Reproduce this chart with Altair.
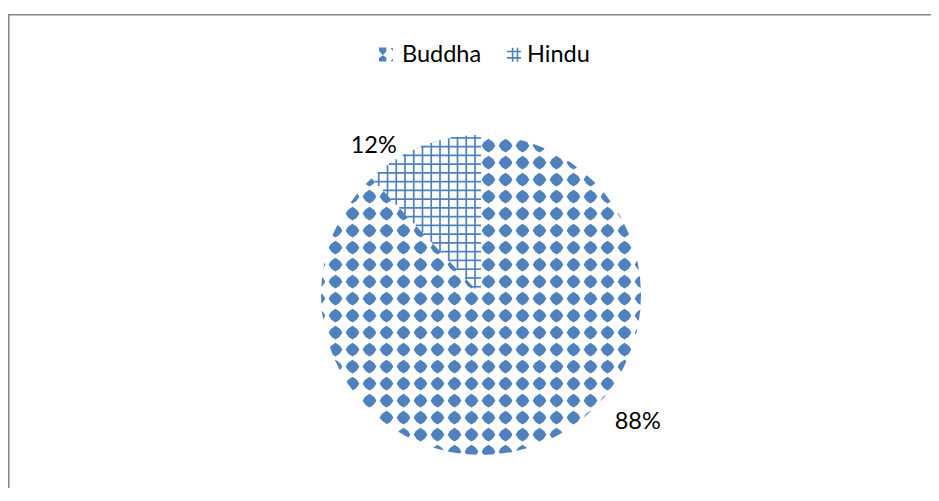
import altair as alt
import numpy as np
import pandas as pd

# ---- data ----
categories = ["Buddha", "Hindu"]
shares = [88, 12]
labels = ["88%", "12%"]
order = [0, 1]

BLUE = "#4F81BD"
FONT = "Lato"
FS = 23.5
W, H = 923, 474
CX, CY, R = 473, 281, 160

df = pd.DataFrame({"category": categories, "share": shares, "label": labels, "order": order})

# ---- texture helpers (decoration only) ----
# diamond lattice used as the "dotted diamond" fill of the pie
xs = 480.5 + 17 * np.arange(-15, 16)
ys = 131.7 + 17 * np.arange(-4, 24)
gx, gy = np.meshgrid(xs, ys)
inside = (gx - CX) ** 2 + (gy - CY) ** 2 <= (R + 8) ** 2
pattern = pd.DataFrame({"px": gx[inside], "py": gy[inside]})

# small-grid fill of the Hindu slice: segments clipped to the slice given by its share
phi = 2 * np.pi * shares[1] / sum(shares)
STEP = 8.75
segs = []
for k in range(-2, 30):
    v = 467.0 - STEP * k
    d = CX - v
    if 0 <= d <= R * np.sin(phi):
        segs.append((v, v, CY - np.sqrt(R ** 2 - d ** 2), CY - d / np.tan(phi)))
for k in range(-2, 30):
    h = 132.7 + STEP * k
    e = CY - h
    if 0 <= e <= R:
        half = min(e * np.tan(phi), np.sqrt(R ** 2 - e ** 2))
        segs.append((CX - half, CX, h, h))
grid = pd.DataFrame(segs, columns=["x1", "x2", "y1", "y2"])

DIAMOND = "M0,-1Q0.68,-0.68 1,0Q0.68,0.68 0,1Q-0.68,0.68 -1,0Q-0.68,-0.68 0,-1Z"
BUDDHA_ICON = ("M-1,-1L0.05,-1L0.05,-0.5L-0.35,0.05L-0.5,0.05L-1,-0.5Z "
               "M-1,1L0.05,1L0.05,0.5L-0.35,0.15L-0.5,0.15L-1,0.5Z "
               "M0.62,-0.9L1,-0.9L1,-0.5Z M0.62,0.95L1,0.6L1,0.95Z")
HINDU_ICON = "M-0.2,-1L-0.2,1M0.5,-1L0.5,1M-1,-0.45L1,-0.45M-1,0.45L1,0.45"

xs_scale = alt.Scale(domain=[0, W], range=[0, W], nice=False, zero=False)
ys_scale = alt.Scale(domain=[0, H], range=[0, H], nice=False, zero=False)
theta_scale = alt.Scale(domain=[0, 1], range=[0, 2 * np.pi])

sl = alt.Chart(df).transform_joinaggregate(total="sum(share)").transform_window(
    cum="sum(share)", sort=[alt.SortField("order")]
).transform_calculate(
    start="(datum.cum - datum.share) / datum.total",
    end="datum.cum / datum.total",
    mid="(datum.cum - datum.share / 2) / datum.total",
)

arc_enc = dict(
    theta=alt.Theta("start:Q", scale=theta_scale, stack=False),
    theta2=alt.Theta2("end"),
    x=alt.value(CX),
    y=alt.value(CY),
)

base_arcs = sl.mark_arc(radius=R, fill="white", strokeWidth=0).encode(**arc_enc)

dots = alt.Chart(pattern).mark_point(
    shape=DIAMOND, filled=True, size=190, color=BLUE, opacity=1, strokeWidth=0
).encode(
    x=alt.X("px:Q", scale=xs_scale, axis=None),
    y=alt.Y("py:Q", scale=ys_scale, axis=None),
)

ring = alt.Chart(pd.DataFrame({"k": [0]})).mark_arc(
    radius=R + 16, radius2=R, theta=0, theta2=2 * np.pi, fill="white", strokeWidth=0
).encode(x=alt.value(CX), y=alt.value(CY))

hindu = sl.transform_filter(alt.datum.category == "Hindu")
hindu_white = hindu.mark_arc(radius=R, fill="white", strokeWidth=0).encode(**arc_enc)

grid_lines = alt.Chart(grid).mark_rule(color=BLUE, strokeWidth=1.7, opacity=1).encode(
    x=alt.X("x1:Q", scale=xs_scale, axis=None),
    x2="x2:Q",
    y=alt.Y("y1:Q", scale=ys_scale, axis=None),
    y2="y2:Q",
)


def pct_label(cat, dx, dy):
    return sl.transform_filter(alt.datum.category == cat).mark_text(
        radius=180, dx=dx, dy=dy, fontSize=FS, font=FONT, color="black",
        align="center", baseline="alphabetic"
    ).encode(
        theta=alt.Theta("mid:Q", scale=theta_scale),
        text="label:N",
        x=alt.value(CX),
        y=alt.value(CY),
    )


lab_b = pct_label("Buddha", 90.5, -33.4)
lab_h = pct_label("Hindu", -41.0, 24.9)

leg_b_sym = alt.Chart(df).transform_filter(alt.datum.category == "Buddha").mark_point(
    shape=BUDDHA_ICON, filled=True, size=196, color=BLUE, opacity=1, strokeWidth=0
).encode(x=alt.value(378), y=alt.value(40.5))
leg_h_sym = alt.Chart(df).transform_filter(alt.datum.category == "Hindu").mark_point(
    shape=HINDU_ICON, filled=False, size=196, stroke=BLUE, strokeWidth=1.6, opacity=1
).encode(x=alt.value(506), y=alt.value(40.7))
leg_b_txt = alt.Chart(df).transform_filter(alt.datum.category == "Buddha").mark_text(
    align="left", baseline="alphabetic", fontSize=FS, font=FONT, color="black"
).encode(text="category:N", x=alt.value(394), y=alt.value(48))
leg_h_txt = alt.Chart(df).transform_filter(alt.datum.category == "Hindu").mark_text(
    align="left", baseline="alphabetic", fontSize=FS, font=FONT, color="black"
).encode(text="category:N", x=alt.value(519), y=alt.value(48))

one = pd.DataFrame({"k": [0]})
top_border = alt.Chart(one).mark_rule(stroke="#868686", strokeWidth=1.5).encode(
    x=alt.value(0), x2=alt.value(W), y=alt.value(0.75))
left_border = alt.Chart(one).mark_rule(stroke="#868686", strokeWidth=1.5).encode(
    x=alt.value(0.75), y=alt.value(0), y2=alt.value(H))

chart = alt.layer(
    base_arcs, dots, ring, hindu_white, grid_lines,
    lab_b, lab_h, leg_b_sym, leg_h_sym, leg_b_txt, leg_h_txt,
    top_border, left_border,
).properties(
    width=W, height=H,
    autosize=alt.AutoSizeParams(type="none"),
    padding={"left": 0, "top": 6, "right": 0, "bottom": 0},
    background="white",
).configure_view(strokeWidth=0)

chart.save("out.html", embed_options={"renderer": "svg", "actions": False})
